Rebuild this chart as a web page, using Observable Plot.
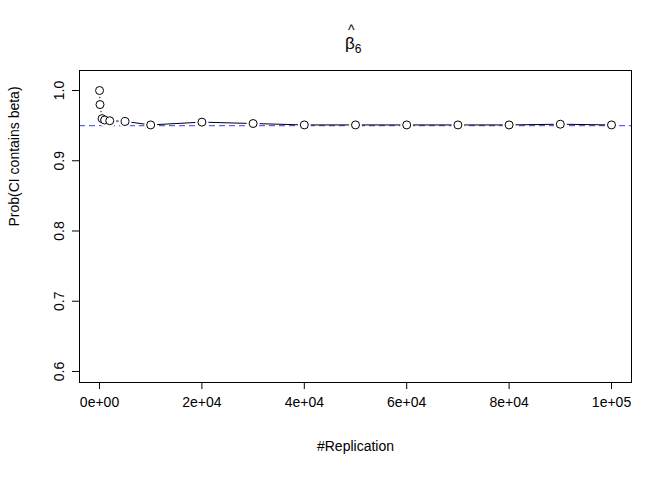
<!DOCTYPE html>
<html><head><meta charset="utf-8">
<script src="https://cdn.jsdelivr.net/npm/d3@7"></script>
<script src="https://cdn.jsdelivr.net/npm/@observablehq/plot@0.6"></script>
<style>body{margin:0;font-family:"Liberation Sans",Arial,sans-serif;}#wrap{position:relative;width:672px;height:480px}
#title{position:absolute;top:34px;left:345px;font-size:17px}
#hat{position:absolute;top:-12px;left:3px;font-size:14px}</style>
</head><body>
<div id="wrap"><div id="title"><span id="hat">^</span>β<sub style="font-size:12px">6</sub></div><div id="chart"></div></div>
<script>
const reps = [10, 100, 500, 1000, 2000, 5000, 10000, 20000, 30000, 40000, 50000, 60000, 70000, 80000, 90000, 100000]
const probs = [1.0, 0.98, 0.96, 0.958, 0.957, 0.956, 0.951, 0.955, 0.953, 0.951, 0.951, 0.951, 0.951, 0.951, 0.952, 0.951]
const xTicks = [0, 20000, 40000, 60000, 80000, 100000]
const xLabels = ["0e+00", "2e+04", "4e+04", "6e+04", "8e+04", "1e+05"]
const yTicks = [0.6, 0.7, 0.8, 0.9, 1.0]

const data = reps.map((r, i) => ({r, p: probs[i]}))

let chart = Plot.plot({
  width: 672, height: 480,
  marginLeft: 79, marginRight: 41, marginTop: 70, marginBottom: 98,
  style: {fontFamily: "Liberation Sans, Arial, sans-serif", fontSize: "14px", color: "black"},
  x: {domain: [-3906, 103906]},
  y: {domain: [0.5843, 1.0285]},
  marks: [
    Plot.ruleY([0.95], {stroke: "#6060ff", strokeDasharray: "6,4", strokeWidth: 1.3}),
    Plot.line(data, {x: "r", y: "p", stroke: "black", strokeWidth: 1}),
    Plot.dot(data, {x: "r", y: "p", r: 6.5, fill: "white", stroke: "none"}),
    Plot.dot(data, {x: "r", y: "p", r: 4, fill: "white", stroke: "black", strokeWidth: 1}),
    Plot.frame({stroke: "black"}),
    Plot.axisX(xTicks, {anchor: "bottom", tickSize: 7, tickPadding: 8, fontSize: 14,
      tickFormat: d => xLabels[xTicks.indexOf(d)], label: null}),
    Plot.axisY(yTicks, {anchor: "left", tickSize: 7, tickPadding: 9, fontSize: 14, tickRotate: -90,
      tickFormat: d => d.toFixed(1), label: null}),
    Plot.text(["#Replication"], {frameAnchor: "bottom", dy: 68, fontSize: 14}),
    Plot.text(["Prob(CI contains beta)"], {frameAnchor: "left", dx: -65, rotate: -90, fontSize: 14})
  ]
})
d3.select('#chart').append(() => chart)
</script>
</body></html>
